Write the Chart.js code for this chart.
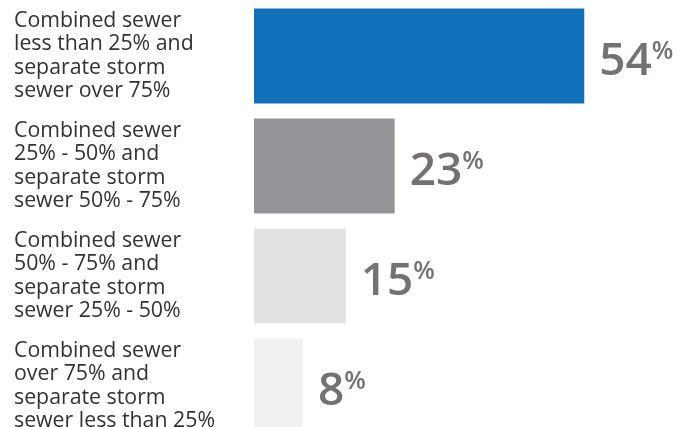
<!DOCTYPE html>
<html>
<head>
<meta charset="utf-8">
<script src="https://cdn.jsdelivr.net/npm/chart.js@4"></script>
<style>
  html, body { margin: 0; padding: 0; background: #fff; overflow: hidden; }
  #wrap { width: 676px; height: 441px; position: relative; }
</style>
</head>
<body>
<div id="wrap"><canvas id="chart"></canvas></div>
<script>
const categories = [
    ['Combined sewer', 'less than 25% and', 'separate storm', 'sewer over 75%'],
    ['Combined sewer', '25% - 50% and', 'separate storm', 'sewer 50% - 75%'],
    ['Combined sewer', '50% - 75% and', 'separate storm', 'sewer 25% - 50%'],
    ['Combined sewer', 'over 75% and', 'separate storm', 'sewer less than 25%']
];
const shares = [54, 23, 15, 8];
const barColors = ['#1170ba', '#939598', '#e1e2e4', '#f0f1f3'];

// big number with a small superscript % after each bar
const valueLabels = {
    id: 'valueLabels',
    afterDatasetsDraw(chart) {
        const ctx = chart.ctx;
        const meta = chart.getDatasetMeta(0);
        ctx.save();
        ctx.fillStyle = '#767171';
        ctx.textAlign = 'left';
        ctx.textBaseline = 'alphabetic';
        meta.data.forEach((bar, i) => {
            const txt = String(shares[i]);
            const x = bar.x + 15;
            ctx.font = '600 46px "Open Sans"';
            ctx.fillText(txt, x, bar.y + 19);
            const w = ctx.measureText(txt).width;
            ctx.font = '600 25px "Open Sans"';
            ctx.fillText('%', x + w, bar.y + 3);
        });
        ctx.restore();
    }
};

document.fonts.load('20px "Open Sans"').then(() => document.fonts.load('600 46px "Open Sans"')).then(() => {
    new Chart(document.getElementById('chart'), {
        type: 'bar',
        data: {
            labels: categories,
            datasets: [{
                data: shares,
                backgroundColor: barColors,
                borderWidth: 0,
                barPercentage: 0.864,
                categoryPercentage: 1
            }]
        },
        options: {
            indexAxis: 'y',
            responsive: true,
            maintainAspectRatio: false,
            animation: false,
            layout: { padding: { left: 14, right: 0, top: 1, bottom: 0 } },
            plugins: {
                legend: { display: false },
                tooltip: { enabled: false }
            },
            scales: {
                x: {
                    display: false,
                    min: 0,
                    max: 69
                },
                y: {
                    grid: { display: false },
                    border: { display: false },
                    afterFit(scale) {
                        scale.width = 240;
                        scale.paddingTop = 0;
                        scale.paddingBottom = 0;
                    },
                    ticks: {
                        autoSkip: false,
                        crossAlign: 'far',
                        color: '#333333',
                        font: { family: '"Open Sans"', size: 21.3, lineHeight: 1.1 }
                    }
                }
            }
        },
        plugins: [valueLabels]
    });
});
</script>
</body>
</html>
